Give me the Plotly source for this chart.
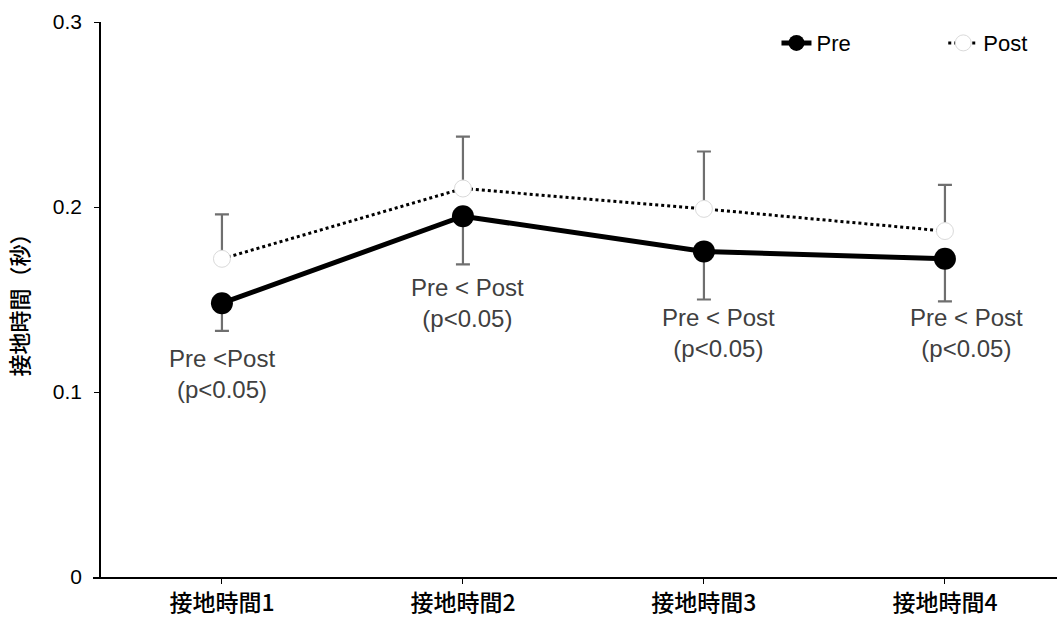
import plotly.graph_objects as go

# Ground contact times (seconds), before and after
categories = ["接地時間1", "接地時間2", "接地時間3", "接地時間4"]
pre_mean = [0.148, 0.195, 0.176, 0.172]
pre_sd = [0.015, 0.026, 0.026, 0.023]
post_mean = [0.172, 0.210, 0.199, 0.187]
post_sd = [0.024, 0.028, 0.031, 0.025]
zeros = [0, 0, 0, 0]

note_text = ["Pre <Post<br>(p<0.05)", "Pre < Post<br>(p<0.05)",
             "Pre < Post<br>(p<0.05)", "Pre < Post<br>(p<0.05)"]
note_y = [0.110, 0.148, 0.132, 0.132]
note_dx = [0.0, 0.02, 0.06, 0.09]

x_idx = list(range(len(categories)))
err_color = "#6f6f6f"

fig = go.Figure()

fig.add_trace(go.Scatter(
    x=x_idx, y=post_mean, name="Post", mode="lines+markers", legend="legend2",
    line=dict(color="black", width=3, dash="dot"),
    marker=dict(size=17, color="white", line=dict(color="#dadada", width=1)),
    error_y=dict(type="data", symmetric=False, array=post_sd, arrayminus=zeros,
                 color=err_color, thickness=2.2, width=7),
))

fig.add_trace(go.Scatter(
    x=x_idx, y=pre_mean, name="Pre", mode="lines+markers", legend="legend",
    line=dict(color="black", width=5),
    marker=dict(size=22, color="black"),
    error_y=dict(type="data", symmetric=False, array=zeros, arrayminus=pre_sd,
                 color=err_color, thickness=2.2, width=7),
))

for i, (t, y, dx) in enumerate(zip(note_text, note_y, note_dx)):
    fig.add_annotation(x=i + dx, y=y, text=t, showarrow=False,
                       font=dict(size=24, color="#404040",
                                 family="Liberation Sans"),
                       align="center")

legend_style = dict(orientation="h", y=0.962, xanchor="left", yanchor="middle",
                    font=dict(size=22, color="black", family="Liberation Sans"),
                    bgcolor="rgba(0,0,0,0)")

fig.update_layout(
    width=1057, height=623,
    margin=dict(l=93, r=0, t=22, b=46),
    paper_bgcolor="white", plot_bgcolor="white",
    font=dict(family="Noto Sans CJK JP", color="black"),
    showlegend=True,
    legend=dict(x=0.709, **legend_style),
    legend2=dict(x=0.882, **legend_style),
    xaxis=dict(
        range=[-0.535, 3.465],
        tickmode="array", tickvals=x_idx, ticktext=categories,
        showline=True, linecolor="black", linewidth=1.5,
        ticks="outside", ticklen=5, tickcolor="black",
        showgrid=False, zeroline=False,
        tickfont=dict(size=23, color="black", family="Noto Sans CJK JP", weight=500),
    ),
    yaxis=dict(
        range=[0, 0.3], dtick=0.1, tickformat="~g",
        anchor="free", position=7 / 964,
        showline=True, linecolor="black", linewidth=1.5,
        ticks="outside", ticklen=5, tickcolor="black",
        showgrid=False, zeroline=False, ticklabelstandoff=8,
        tickfont=dict(size=21, color="black", family="Liberation Sans"),
        title=dict(text="接地時間（秒）",
                   font=dict(size=22, color="black", family="Noto Sans CJK JP", weight=500),
                   standoff=17),
    ),
)

fig.write_html("out.html")
